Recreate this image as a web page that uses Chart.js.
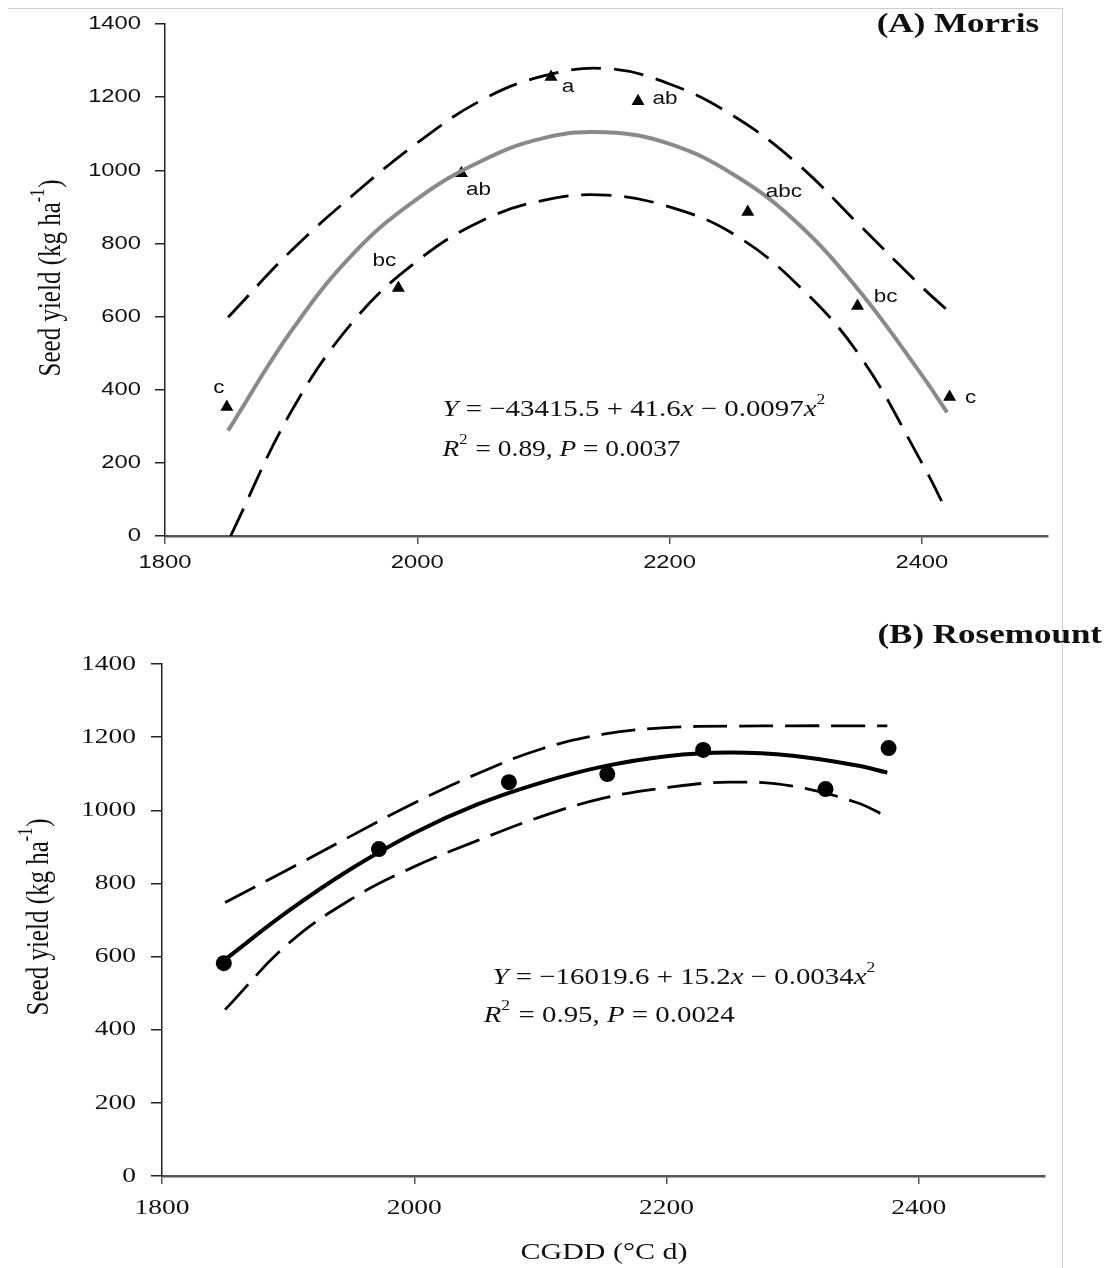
<!DOCTYPE html>
<html>
<head>
<meta charset="utf-8">
<script src="https://cdn.jsdelivr.net/npm/chart.js@4.4.1/dist/chart.umd.min.js"></script>
<style>
  body { margin: 0; background: #fff; }
  #wrap { position: relative; width: 1105px; height: 1268px; overflow: hidden; }
  .frame-top { position: absolute; left: 8px; top: 8px; width: 1054px; height: 1px; background: #cfcfcf; }
  .frame-right { position: absolute; left: 1062px; top: 8px; width: 1px; height: 1260px; background: #cfcfcf; }
  #morris { position: absolute; left: 0; top: 0; }
  #rosemount { position: absolute; left: 0; top: 600px; }
</style>
</head>
<body>
<div id="wrap">
  <div class="frame-top"></div>
  <div class="frame-right"></div>
  <canvas id="morris" width="1105" height="600"></canvas>
  <canvas id="rosemount" width="1105" height="668"></canvas>
</div>
<script>
// x axis ticks shared by both panels
const cgddTicks = [1800, 2000, 2200, 2400];
const yieldTicks = [0, 200, 400, 600, 800, 1000, 1200, 1400];

// (A) Morris: observed yields and mean separation letters
const morrisCgdd = [1849, 1985, 2035, 2106, 2175, 2262, 2349, 2422];
const morrisYield = [353, 678, 992, 1255, 1189, 886, 629, 380];
const morrisLetters = ['c', 'bc', 'ab', 'a', 'ab', 'abc', 'bc', 'c'];
const morrisLetterOffsets = [[-8, -19], [-14, -27], [17, 17], [17, 10], [27, -2], [36, -20], [28, -9], [21, 1]];

// (A) fitted curve and 95% band
const morrisFitX = [1850, 1900, 1950, 2000, 2050, 2100, 2150, 2200, 2250, 2300, 2350, 2400, 2420];
const morrisFitY = [288, 560, 775, 922, 1024, 1088, 1104, 1072, 990, 860, 672, 440, 338];
const morrisUpperX = [1850, 1900, 1950, 2000, 2050, 2100, 2150, 2200, 2250, 2300, 2350, 2400, 2420];
const morrisUpperY = [598, 780, 935, 1075, 1190, 1258, 1278, 1236, 1150, 1022, 852, 681, 618];
const morrisLowerX = [1852, 1900, 1950, 2000, 2050, 2100, 2150, 2200, 2250, 2300, 2350, 2400, 2420];
const morrisLowerY = [0, 340, 590, 752, 860, 918, 932, 900, 827, 692, 497, 200, 66];

// (B) Rosemount: observed yields
const roseCgdd = [1849, 1972, 2075, 2153, 2229, 2326, 2376];
const roseYield = [582, 894, 1077, 1099, 1165, 1058, 1170];

// (B) fitted curve and 95% band
const roseFitX = [1850, 1900, 1950, 2000, 2050, 2100, 2150, 2200, 2250, 2300, 2350, 2375];
const roseFitY = [592, 724, 840, 938, 1016, 1075, 1120, 1148, 1158, 1149, 1123, 1103];
const roseUpperX = [1850, 1900, 1950, 2000, 2050, 2100, 2150, 2200, 2250, 2300, 2350, 2375];
const roseUpperY = [748, 838, 930, 1020, 1100, 1167, 1208, 1226, 1230, 1231, 1231, 1231];
const roseLowerX = [1850, 1900, 1950, 2000, 2050, 2100, 2150, 2200, 2250, 2300, 2350, 2375];
const roseLowerY = [455, 635, 757, 846, 917, 982, 1033, 1062, 1077, 1066, 1022, 982];

const SERIF = '"Liberation Serif", "Times New Roman", serif';
const SANS = '"Liberation Sans", Arial, sans-serif';
const WIDE = 1.25; // the figure's lettering runs wide

function toPoints(xs, ys) {
  return xs.map((x, i) => ({ x: x, y: ys[i] }));
}

function curve(xs, ys, color, width, dash) {
  return {
    data: toPoints(xs, ys),
    showLine: true,
    borderColor: color,
    borderWidth: width,
    borderDash: dash || [],
    pointRadius: 0,
    tension: 0.4,
    fill: false
  };
}

function pieceFont(style, size, family) {
  const sup = style === 's';
  const fs = sup ? Math.round(size * 0.62) : size;
  return (style === 'i' ? 'italic ' : '') + fs + 'px ' + family;
}

function richWidth(ctx, pieces, size, family) {
  ctx.save();
  let w = 0;
  pieces.forEach(([text, style]) => {
    ctx.font = pieceFont(style, size, family);
    w += ctx.measureText(text).width + (style === 's' ? 1 : 0);
  });
  ctx.restore();
  return w;
}

// draws a run of [text, style] pieces; style: 'i' italic, 's' superscript
function drawRich(ctx, pieces, x, y, size, stretch, family) {
  family = family || SERIF;
  ctx.save();
  ctx.translate(x, y);
  ctx.scale(stretch, 1);
  ctx.textBaseline = 'middle';
  ctx.textAlign = 'left';
  ctx.fillStyle = '#111';
  let cx = 0;
  pieces.forEach(([text, style]) => {
    const sup = style === 's';
    ctx.font = pieceFont(style, size, family);
    ctx.fillText(text, cx, sup ? -size * 0.42 : 0);
    cx += ctx.measureText(text).width + (sup ? 1 : 0);
  });
  ctx.restore();
}

// equation line squeezed or spread to a set width
function drawEquation(ctx, pieces, x, y, size, width) {
  const natural = richWidth(ctx, pieces, size, SERIF);
  drawRich(ctx, pieces, x, y, size, width / natural, SERIF);
}

function drawYTitle(ctx, cx, cy, size) {
  const pieces = [['Seed yield (kg ha', ''], ['-1', 's'], [')', '']];
  const w = richWidth(ctx, pieces, size, SERIF);
  ctx.save();
  ctx.translate(cx, cy);
  ctx.rotate(-Math.PI / 2);
  ctx.scale(1, WIDE);
  drawRich(ctx, pieces, -w / 2, 0, size, 1, SERIF);
  ctx.restore();
}

function drawLabel(ctx, text, x, y, font, align) {
  ctx.save();
  ctx.font = font;
  ctx.fillStyle = '#111';
  ctx.textBaseline = 'middle';
  ctx.textAlign = 'left';
  const w = ctx.measureText(text).width * WIDE;
  const left = align === 'right' ? x - w : align === 'center' ? x - w / 2 : x;
  ctx.translate(left, y);
  ctx.scale(WIDE, 1);
  ctx.fillText(text, 0, 0);
  ctx.restore();
}

// tick numbers drawn from each scale's own tick positions
function tickText(font, yGap, xGap) {
  return {
    id: 'tickText',
    afterDraw(chart) {
      const ctx = chart.ctx;
      const xs = chart.scales.x, ys = chart.scales.y;
      ys.ticks.forEach(t => drawLabel(ctx, String(t.value), xs.left - yGap, ys.getPixelForValue(t.value), font, 'right'));
      xs.ticks.forEach(t => drawLabel(ctx, String(t.value), xs.getPixelForValue(t.value), ys.bottom + xGap, font, 'center'));
    }
  };
}

function axes(yWidth, xHeight, yTickLen) {
  return {
    x: {
      type: 'linear',
      min: 1800,
      max: 2500,
      afterBuildTicks: s => { s.ticks = cgddTicks.map(v => ({ value: v })); },
      afterFit: s => { s.height = xHeight; },
      grid: { drawOnChartArea: false, drawTicks: true, tickLength: 8, color: '#555', lineWidth: 1.5 },
      border: { display: true, color: '#555', width: 2.5 },
      ticks: { display: false }
    },
    y: {
      type: 'linear',
      min: 0,
      max: 1400,
      afterBuildTicks: s => { s.ticks = yieldTicks.map(v => ({ value: v })); },
      afterFit: s => { s.width = yWidth; },
      grid: { drawOnChartArea: false, drawTicks: true, tickLength: yTickLen, color: '#222', lineWidth: 1.5 },
      border: { display: true, color: '#222', width: 1.5 },
      ticks: { display: false }
    }
  };
}

const morrisText = {
  id: 'morrisText',
  afterDraw(chart) {
    const ctx = chart.ctx;
    const xs = chart.scales.x, ys = chart.scales.y;

    // separation letters next to each mean
    ctx.save();
    ctx.fillStyle = '#1b1b2a';
    morrisLetters.forEach((t, i) => {
      const px = xs.getPixelForValue(morrisCgdd[i]) + morrisLetterOffsets[i][0];
      const py = ys.getPixelForValue(morrisYield[i]) + morrisLetterOffsets[i][1];
      drawLabel(ctx, t, px, py, '18px ' + SANS, 'center');
    });
    ctx.restore();

    drawEquation(ctx, [['Y', 'i'], [' = \u221243415.5 + 41.6', ''], ['x', 'i'], [' \u2212 0.0097', ''], ['x', 'i'], ['2', 's']],
      xs.getPixelForValue(2020), ys.getPixelForValue(345), 23, 384);
    drawEquation(ctx, [['R', 'i'], ['2', 's'], [' = 0.89, ', ''], ['P', 'i'], [' = 0.0037', '']],
      xs.getPixelForValue(2020), ys.getPixelForValue(235), 23, 238);

    drawLabel(ctx, '(A) Morris', 1039, 25, 'bold 28px ' + SERIF, 'right');
    drawYTitle(ctx, 52, 278, 25);
  }
};

const roseText = {
  id: 'roseText',
  afterDraw(chart) {
    const ctx = chart.ctx;
    const xs = chart.scales.x, ys = chart.scales.y;

    drawEquation(ctx, [['Y', 'i'], [' = \u221216019.6 + 15.2', ''], ['x', 'i'], [' \u2212 0.0034', ''], ['x', 'i'], ['2', 's']],
      xs.getPixelForValue(2062), ys.getPixelForValue(541), 23, 384);
    drawEquation(ctx, [['R', 'i'], ['2', 's'], [' = 0.95, ', ''], ['P', 'i'], [' = 0.0024', '']],
      xs.getPixelForValue(2055), ys.getPixelForValue(437), 23, 251);

    drawLabel(ctx, '(B) Rosemount', 1102, 36, 'bold 28px ' + SERIF, 'right');
    drawYTitle(ctx, 40, 317, 25);
    drawLabel(ctx, 'CGDD (\u00B0C d)', 604, 653, '24px ' + SERIF, 'center');
  }
};

new Chart(document.getElementById('morris'), {
  type: 'scatter',
  data: {
    datasets: [
      curve(morrisUpperX, morrisUpperY, '#000', 2.8, [30, 13]),
      curve(morrisLowerX, morrisLowerY, '#000', 2.8, [30, 13]),
      curve(morrisFitX, morrisFitY, '#8a8a8a', 4),
      {
        data: toPoints(morrisCgdd, morrisYield),
        pointStyle: 'triangle',
        pointRadius: 7.5,
        backgroundColor: '#000',
        borderColor: '#000',
        borderWidth: 0
      }
    ]
  },
  options: {
    responsive: false,
    animation: false,
    layout: { padding: { top: 24, right: 57, bottom: 0, left: 0 } },
    plugins: { legend: { display: false }, tooltip: { enabled: false } },
    scales: axes(165, 64, 10)
  },
  plugins: [tickText('19px ' + SANS, 24, 27), morrisText]
});

new Chart(document.getElementById('rosemount'), {
  type: 'scatter',
  data: {
    datasets: [
      curve(roseUpperX, roseUpperY, '#000', 2.8, [34, 12]),
      curve(roseLowerX, roseLowerY, '#000', 2.8, [34, 12]),
      curve(roseFitX, roseFitY, '#000', 4),
      {
        data: toPoints(roseCgdd, roseYield),
        pointStyle: 'circle',
        pointRadius: 8,
        backgroundColor: '#000',
        borderColor: '#000',
        borderWidth: 0
      }
    ]
  },
  options: {
    responsive: false,
    animation: false,
    layout: { padding: { top: 64, right: 60, bottom: 0, left: 0 } },
    plugins: { legend: { display: false }, tooltip: { enabled: false } },
    scales: axes(162, 92, 11)
  },
  plugins: [tickText('22px ' + SERIF, 26, 32), roseText]
});
</script>
</body>
</html>
